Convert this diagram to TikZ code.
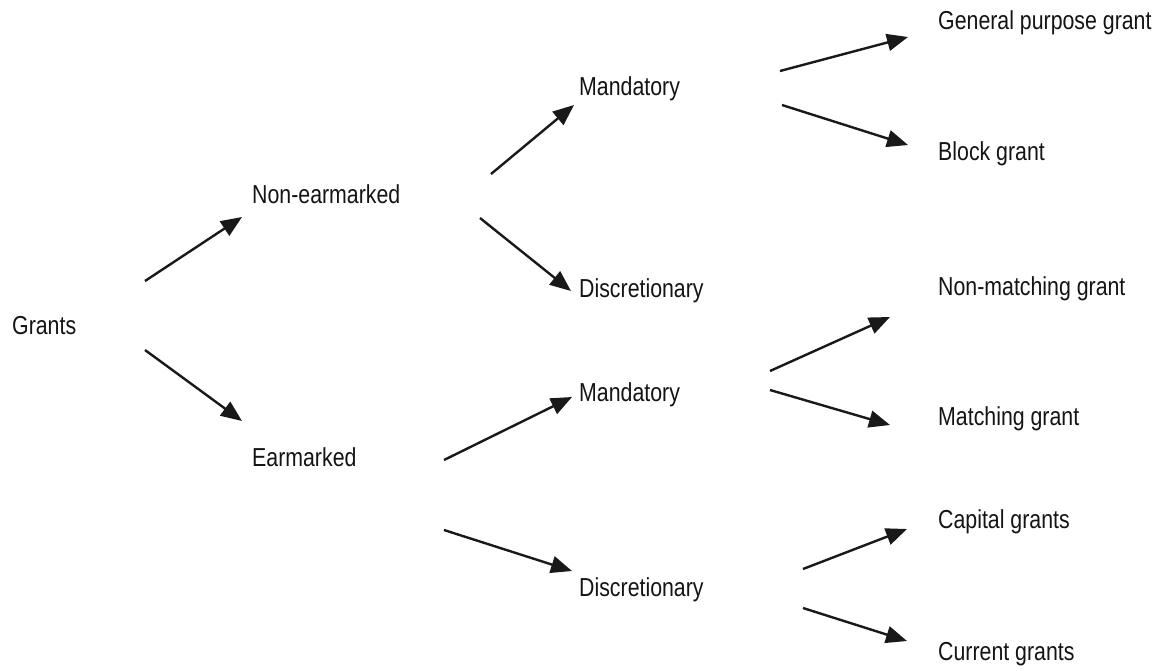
\documentclass[tikz,border=0pt]{standalone}
\usepackage{fontspec}
\setmainfont[FakeStretch=0.82]{Liberation Sans}
\usetikzlibrary{arrows.meta}
\begin{document}
\begin{tikzpicture}[x=1pt,y=-1pt,
  lbl/.style={anchor=base west,inner sep=0pt,text=black!92,font=\fontsize{26}{30}\selectfont},
  arr/.style={line width=2.4pt,draw=black!90,-{Triangle[length=21pt,width=17pt]}}]
\useasboundingbox (0,0) rectangle (1159,670);
% labels
\node[lbl] (grants) at (12,334) {Grants};
\node[lbl] (nonear) at (252,203) {Non-earmarked};
\node[lbl] (ear) at (252,466) {Earmarked};
\node[lbl] (mand1) at (579,95) {Mandatory};
\node[lbl] (disc1) at (579,297) {Discretionary};
\node[lbl] (mand2) at (579,401) {Mandatory};
\node[lbl] (disc2) at (579,596) {Discretionary};
\node[lbl] (gpg) at (938,29) {General purpose grant};
\node[lbl] (block) at (938,160) {Block grant};
\node[lbl] (nonmatch) at (938,295) {Non-matching grant};
\node[lbl] (match) at (938,425) {Matching grant};
\node[lbl] (capital) at (938,528) {Capital grants};
\node[lbl] (current) at (938,660) {Current grants};
% connector end points
\coordinate (g1s) at (145,281); \coordinate (g1e) at (242,217);
\coordinate (g2s) at (145,350); \coordinate (g2e) at (242,421);
\coordinate (n1s) at (491,174); \coordinate (n1e) at (574,105);
\coordinate (n2s) at (480,218); \coordinate (n2e) at (571,291);
\coordinate (e1s) at (444,460); \coordinate (e1e) at (572,397);
\coordinate (e2s) at (444,530); \coordinate (e2e) at (572,571);
\coordinate (m1s) at (780,71);  \coordinate (m1e) at (908,37);
\coordinate (m2s) at (782,105); \coordinate (m2e) at (908,145);
\coordinate (m3s) at (770,371); \coordinate (m3e) at (890,317);
\coordinate (m4s) at (770,390); \coordinate (m4e) at (890,425);
\coordinate (d1s) at (803,569); \coordinate (d1e) at (907,529);
\coordinate (d2s) at (803,608); \coordinate (d2e) at (907,641);
\draw[arr] (g1s) -- (g1e);
\draw[arr] (g2s) -- (g2e);
\draw[arr] (n1s) -- (n1e);
\draw[arr] (n2s) -- (n2e);
\draw[arr] (e1s) -- (e1e);
\draw[arr] (e2s) -- (e2e);
\draw[arr] (m1s) -- (m1e);
\draw[arr] (m2s) -- (m2e);
\draw[arr] (m3s) -- (m3e);
\draw[arr] (m4s) -- (m4e);
\draw[arr] (d1s) -- (d1e);
\draw[arr] (d2s) -- (d2e);
\end{tikzpicture}
\end{document}
